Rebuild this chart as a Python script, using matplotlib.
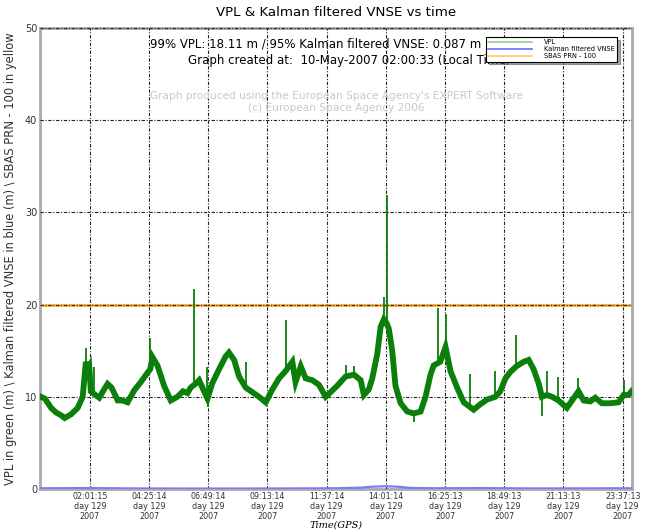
import matplotlib
matplotlib.use('Agg')
from matplotlib import pyplot as plt
from matplotlib.lines import Line2D

# VPL centre line (hours of day, metres)
vpl_t = [0.04, 0.2, 0.45, 0.65, 0.85, 1.0, 1.26, 1.53, 1.73, 1.86, 1.93, 2.0,
         2.06, 2.2, 2.4, 2.6, 2.74, 2.9, 3.15, 3.35, 3.55, 3.82, 4.09, 4.3,
         4.47, 4.56, 4.76, 5.03, 5.3, 5.57, 5.8, 5.98, 6.11, 6.3, 6.45, 6.65,
         6.79, 6.99, 7.26, 7.53, 7.66, 7.87, 8.07, 8.34, 8.61, 8.88, 9.15,
         9.42, 9.69, 9.96, 10.23, 10.36, 10.57, 10.77, 11.04, 11.31, 11.58,
         11.78, 12.05, 12.39, 12.73, 13.0, 13.13, 13.33, 13.47, 13.67, 13.81,
         13.94, 14.05, 14.14, 14.28, 14.41, 14.62, 14.89, 15.15, 15.43, 15.63,
         15.83, 15.96, 16.23, 16.44, 16.64, 16.91, 17.18, 17.58, 17.85, 18.13,
         18.46, 18.66, 18.87, 19.07, 19.31, 19.61, 19.81, 20.01, 20.21, 20.35,
         20.55, 20.76, 21.02, 21.23, 21.36, 21.57, 21.83, 22.04, 22.31, 22.51,
         22.78, 23.12, 23.45, 23.66, 23.86, 23.98]
vpl_v = [10.0, 9.8, 8.8, 8.3, 8.0, 7.7, 8.1, 8.8, 10.0, 13.8, 12.8, 13.2,
         10.6, 10.3, 9.9, 10.8, 11.4, 11.0, 9.6, 9.6, 9.4, 10.7, 11.6, 12.4,
         13.0, 14.3, 13.4, 11.2, 9.6, 10.0, 10.6, 10.4, 11.0, 11.4, 11.8, 10.6,
         9.8, 11.5, 13.0, 14.4, 14.8, 14.0, 12.2, 11.0, 10.5, 10.0, 9.4,
         10.8, 12.0, 12.8, 13.8, 11.6, 13.3, 12.0, 11.8, 11.3, 10.0,
         10.5, 11.2, 12.2, 12.4, 11.8, 10.2, 10.8, 12.0, 14.6, 17.6,
         18.4, 18.0, 17.4, 15.0, 11.2, 9.3, 8.4, 8.2, 8.4, 10.0,
         12.4, 13.4, 13.8, 15.4, 12.8, 11.0, 9.4, 8.6, 9.2, 9.7,
         10.0, 10.6, 12.0, 12.7, 13.3, 13.8, 14.0, 13.0, 11.5, 10.0,
         10.2, 10.0, 9.6, 9.1, 8.8, 9.6, 10.6, 9.6, 9.5, 9.9,
         9.3, 9.3, 9.4, 10.2, 10.2, 10.6]

# short excursions of VPL (time, low, high)
spike_t = [1.86, 2.2, 4.47, 6.25, 6.79, 8.34, 9.96, 12.39, 12.73, 13.94,
           14.05, 16.13, 16.44, 17.42, 18.46, 19.31, 20.55, 21.02, 21.83,
           23.66, 15.15, 20.35, 6.8]
spike_lo = [13.0, 10.3, 12.8, 11.0, 10.0, 11.0, 12.8, 12.2, 12.4, 18.0,
            18.0, 13.6, 15.0, 9.0, 10.0, 13.3, 10.2, 9.6, 10.6,
            10.2, 7.3, 7.9, 8.9]
spike_hi = [15.3, 13.2, 16.4, 21.7, 13.2, 13.8, 18.3, 13.5, 13.3, 20.8,
            31.9, 19.6, 19.0, 12.5, 12.8, 16.7, 12.8, 12.2, 12.0,
            11.8, 8.3, 10.0, 9.8]

# Kalman filtered VNSE
vnse_t = [0, 2, 4, 6, 8, 10, 12, 13, 13.5, 14, 14.5, 15, 16, 18, 20, 22, 24]
vnse_v = [0.08, 0.1, 0.06, 0.05, 0.05, 0.06, 0.08, 0.15, 0.25, 0.3, 0.25,
          0.12, 0.08, 0.1, 0.06, 0.07, 0.08]

sbas_level = 20

tick_times = ['02:01:15', '04:25:14', '06:49:14', '09:13:14', '11:37:14',
              '14:01:14', '16:25:13', '18:49:13', '21:13:13', '23:37:13']


def to_hours(s):
    h, m, sec = s.split(':')
    return int(h) + int(m) / 60 + int(sec) / 3600


fig = plt.figure(figsize=(6.46, 5.31), dpi=100)
ax = fig.add_axes([40 / 646, 1 - 489 / 531, 592 / 646, 461 / 531])

green = '#0a7f0a'
ax.axhline(sbas_level, color='#ffb84d', lw=2.2, zorder=2)
ax.plot(vpl_t, vpl_v, color=green, lw=4.2, solid_joinstyle='miter', zorder=3)
ax.vlines(spike_t, spike_lo, spike_hi, color=green, lw=1.3, zorder=3)
ax.plot(vnse_t, vnse_v, color='#7a7aff', lw=1.6, zorder=3)

ticks = [to_hours(s) for s in tick_times]
ax.set_xlim(0, 24)
ax.set_ylim(0, 50)
ax.set_xticks(ticks)
ax.set_xticklabels([s + '\nday 129\n2007' for s in tick_times],
                   fontsize=5.8, color='#333333', linespacing=1.15)
ax.set_yticks([0, 10, 20, 30, 40, 50])
ax.tick_params(axis='both', length=0, pad=2)
ax.tick_params(axis='y', labelsize=7, colors='#333333')
ax.grid(True, color='#222222', lw=0.8, linestyle=(0, (3, 1.5, 1, 1.5)),
        zorder=4)
ax.set_axisbelow(False)
for sp in ax.spines.values():
    sp.set_color('#aaaaaa')
    sp.set_linewidth(2)

ax.set_title('VPL & Kalman filtered VNSE vs time', fontsize=9.6, pad=9)
ax.set_ylabel('VPL in green (m) \\ Kalman filtered VNSE in blue (m) \\ SBAS PRN - 100 in yellow',
              fontsize=8.3, color='#333333', labelpad=6)
ax.set_xlabel('Time(GPS)', fontsize=7, family='DejaVu Serif',
              style='italic', labelpad=0)

ax.text(0.185, 0.966, '99% VPL: 18.11 m / 95% Kalman filtered VNSE: 0.087 m',
        transform=ax.transAxes, fontsize=8.5, va='center', zorder=5)
ax.text(0.25, 0.929, 'Graph created at:  10-May-2007 02:00:33 (Local Time)',
        transform=ax.transAxes, fontsize=8.5, va='center', zorder=5)
ax.text(0.5, 0.853, "Graph produced using the European Space Agency's EXPERT Software",
        transform=ax.transAxes, fontsize=7.6, color='#c8c8c8', ha='center',
        va='center', zorder=5)
ax.text(0.5, 0.827, '(c) European Space Agency 2006',
        transform=ax.transAxes, fontsize=7.6, color='#c8c8c8', ha='center',
        va='center', zorder=5)

handles = [Line2D([], [], color='#90d090', lw=1.2),
           Line2D([], [], color='#6a6aff', lw=1.2),
           Line2D([], [], color='#ffc46a', lw=1.2)]
leg = ax.legend(handles, ['VPL', 'Kalman filtered VNSE', 'SBAS PRN - 100'],
                loc='upper right', bbox_to_anchor=(0.98, 0.988), fontsize=4.8,
                handlelength=6.5, handletextpad=1.8, labelspacing=0.15,
                fancybox=False, shadow=True, borderpad=0.35,
                framealpha=1)
leg.get_frame().set_edgecolor('black')
leg.get_frame().set_linewidth(0.8)
leg.set_zorder(10)

plt.savefig('out.png', dpi=100)
